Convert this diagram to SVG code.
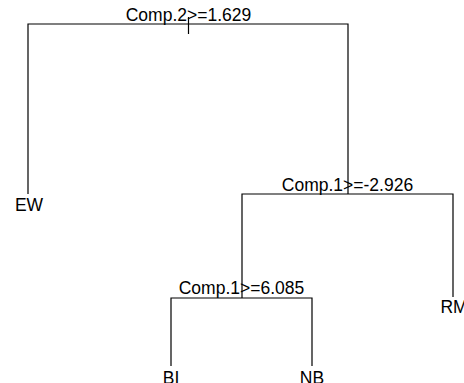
<svg xmlns="http://www.w3.org/2000/svg" width="464" height="383" viewBox="0 0 464 383">
<style>
.e{stroke:#000;stroke-width:1.2;fill:none}
text{font-family:"Liberation Sans",Arial,sans-serif;font-size:17.5px;fill:#000;text-anchor:middle}
</style>
<rect width="464" height="383" fill="#fff"/>
<g id="connectors">
<path class="e" d="M28,194 V24 H348 V194"/>
<path class="e" d="M188.5,17 V34"/>
<path class="e" d="M453,297 V194 H242 V298"/>
<path class="e" d="M171,366 V298 H312 V366"/>
</g>
<g id="n1"><text x="188.5" y="21">Comp.2&gt;=1.629</text></g>
<g id="n2"><text x="347.5" y="191">Comp.1&gt;=-2.926</text></g>
<g id="n3"><text x="241.5" y="294">Comp.1&gt;=6.085</text></g>
<g id="EW"><text x="29" y="211">EW</text></g>
<g id="RM"><text x="454" y="313">RM</text></g>
<g id="BI"><text x="171" y="384">BI</text></g>
<g id="NB"><text x="312" y="384">NB</text></g>
</svg>
